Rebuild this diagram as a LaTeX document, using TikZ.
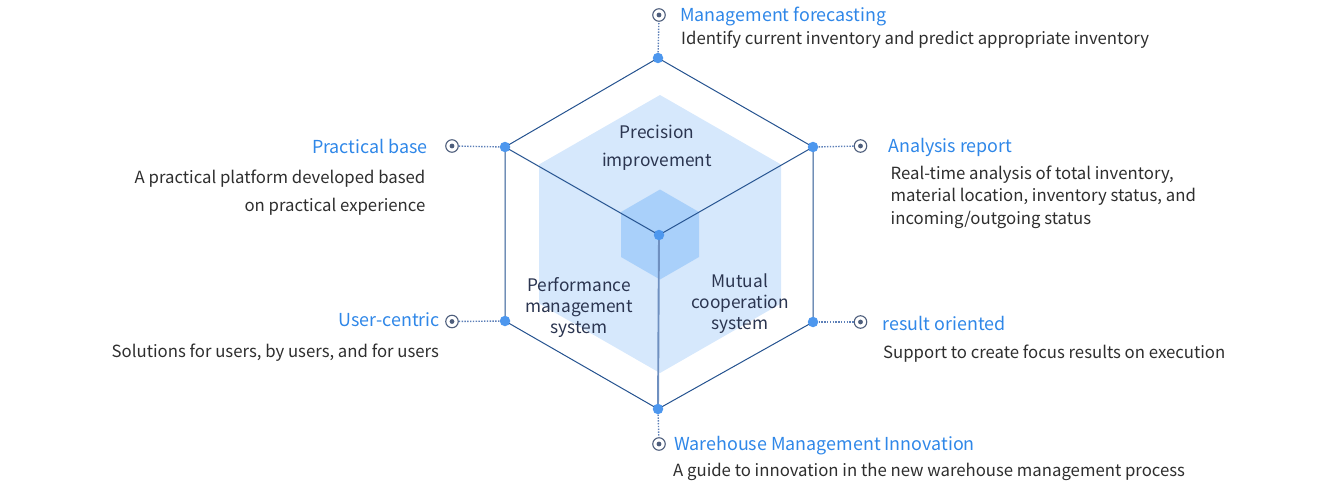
\documentclass[tikz,border=0pt]{standalone}
\usepackage{fontspec}
\setmainfont{Noto Sans CJK KR}
\definecolor{titleblue}{HTML}{2F87E8}
\definecolor{desc}{HTML}{2E2E2E}
\definecolor{hexline}{HTML}{24528F}
\definecolor{lighthex}{HTML}{D6E8FC}
\definecolor{midhex}{HTML}{A9D0FA}
\definecolor{dotblue}{HTML}{4D97EE}
\definecolor{centertxt}{HTML}{2B3550}
\definecolor{stem}{HTML}{6F90C0}
\definecolor{markc}{HTML}{4E5E7C}
\definecolor{dotline}{HTML}{5D80B8}
\begin{document}
\begin{tikzpicture}[x=1pt,y=-1pt,
  vdot/.style={circle,fill=dotblue,inner sep=0,minimum size=10.5pt},
  marker/.style={circle,draw=markc,line width=1.1pt,fill=white,inner sep=0,minimum size=12.5pt,
    path picture={\fill[markc] (path picture bounding box.center) circle (2.4pt);}},
  link/.style={draw=dotline,line width=1.4pt,dash pattern=on 1.4pt off 1.4pt},
  edge/.style={draw=hexline,line width=1pt},
  ttl/.style={font=\fontsize{17.9}{22}\selectfont,text=titleblue,inner sep=0},
  dsc/.style={font=\fontsize{16.75}{22}\selectfont,text=desc,inner sep=0},
  ctr/.style={font=\fontsize{17.3}{21}\selectfont,text=centertxt,inner sep=0,align=center}
]
\useasboundingbox (0,0) rectangle (1320,487);
% hexagon geometry
\coordinate (C) at (659,235);
\coordinate (vT) at (658,58);
\coordinate (vUR) at (813,147);
\coordinate (vLR) at (813,322);
\coordinate (vB) at (658,409);
\coordinate (vLL) at (505,321);
\coordinate (vUL) at (505,147);
% light hexagon
\fill[lighthex] (660,95) -- (781,164.5) -- (781,303.5) -- (660,373) -- (539,303.5) -- (539,164.5) -- cycle;
% small hexagon
\fill[midhex] (660,189.5) -- (699,212) -- (699,257) -- (660,279.5) -- (621,257) -- (621,212) -- cycle;
% outer hexagon
\draw[edge] (vT) -- (vUR) -- (vLR) -- (vB) -- (vLL) -- (vUL) -- cycle;
\draw[edge] (C) -- (vUL);
\draw[edge] (C) -- (vUR);
\draw[draw=stem,line width=1.9pt] (C) -- (vB);
% markers
\node[marker] (mT) at (659,15) {};
\node[marker] (mUL) at (452,146) {};
\node[marker] (mUR) at (860.5,146) {};
\node[marker] (mLL) at (452,321.5) {};
\node[marker] (mLR) at (860.5,322) {};
\node[marker] (mB) at (659,444) {};
% dotted links
\draw[link] (vT) -- (mT);
\draw[link] (vUL) -- (mUL);
\draw[link] (vUR) -- (mUR);
\draw[link] (vLL) -- (mLL);
\draw[link] (vLR) -- (mLR);
\draw[link] (vB) -- (mB);
% vertex dots
\node[vdot] (dT) at (vT) {};
\node[vdot] (dUR) at (vUR) {};
\node[vdot] (dLR) at (vLR) {};
\node[vdot] (dB) at (vB) {};
\node[vdot] (dLL) at (vLL) {};
\node[vdot] (dUL) at (vUL) {};
\node[vdot] (dC) at (C) {};
% center texts (base anchor = last line baseline)
\node[ctr,anchor=base,font=\fontsize{17.3}{27.7}\selectfont] (tPrec) at (657,166) {Precision\\improvement};
\node[ctr,anchor=base] (tPerf) at (579,333.3) {Performance\\management\\system};
\node[ctr,anchor=base] (tMut) at (740,329.3) {Mutual\\cooperation\\system};
% labels
\node[ttl,anchor=base west] (lT) at (680,21.5) {Management forecasting};
\node[dsc,anchor=base west] (dscT) at (681,45) {Identify current inventory and predict appropriate inventory};
\node[ttl,anchor=base east] (lUL) at (428,153.3) {Practical base};
\node[dsc,anchor=base east,align=right,font=\fontsize{16.75}{28.4}\selectfont] (dscUL) at (425.5,211.7) {A practical platform developed based\\on practical experience};
\node[ttl,anchor=base west] (lUR) at (888,152.3) {Analysis report};
\node[dsc,anchor=base west,align=left,font=\fontsize{16.75}{22.4}\selectfont] (dscUR) at (890.5,224) {Real-time analysis of total inventory,\\material location, inventory status, and\\incoming/outgoing status};
\node[ttl,anchor=base east] (lLL) at (440,326.7) {User-centric};
\node[dsc,anchor=base west] (dscLL) at (111.5,357.3) {Solutions for users, by users, and for users};
\node[ttl,anchor=base west] (lLR) at (882.5,330) {result oriented};
\node[dsc,anchor=base west] (dscLR) at (883,358.3) {Support to create focus results on execution};
\node[ttl,anchor=base west] (lB) at (674,450.5) {Warehouse Management Innovation};
\node[dsc,anchor=base west] (dscB) at (673,476.7) {A guide to innovation in the new warehouse management process};
\end{tikzpicture}
\end{document}
